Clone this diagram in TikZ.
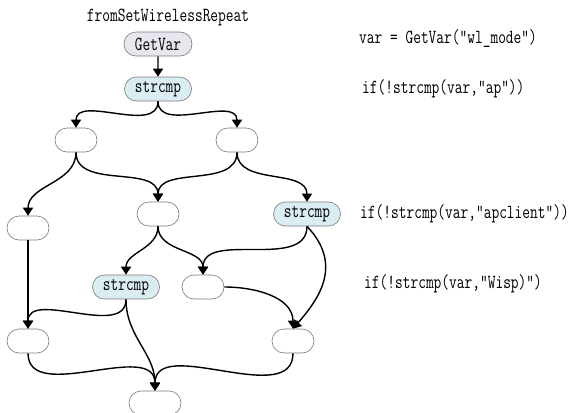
\documentclass[tikz,border=0pt]{standalone}
\usetikzlibrary{arrows.meta,shapes.misc}
\newcommand\ct[1]{\scalebox{0.75}[1]{\fontsize{20}{22}\selectfont\ttfamily #1}}
\definecolor{getfill}{HTML}{E9E6EF}
\definecolor{cmpfill}{HTML}{DAEDF3}
\definecolor{bord}{HTML}{7A7A7A}
\tikzset{
  box/.style={rounded rectangle, draw=bord, line width=0.6pt, fill=white,
    minimum height=24pt, minimum width=42pt, inner sep=0pt},
  getbox/.style={box, fill=getfill, minimum width=68pt},
  cmpbox/.style={box, fill=cmpfill, minimum width=67pt},
  lbl/.style={anchor=west, inner sep=0pt},
  edge/.style={line width=1.4pt, -{Triangle[width=10pt,length=8pt]}},
}
\begin{document}
\begin{tikzpicture}[x=1pt,y=1pt]
\useasboundingbox (0,0) rectangle (574,-413);
\node[inner sep=0pt] (title) at (168,-17) {\ct{fromSetWirelessRepeat}};
\node[getbox] (getvar) at (158,-44) {\ct{GetVar}};
\node[cmpbox] (cmp1) at (158,-89) {\ct{strcmp}};
\node[box] (a) at (76,-140) {};
\node[box] (b) at (237,-140) {};
\node[box] (c) at (158,-214) {};
\node[box] (d) at (28,-228) {};
\node[cmpbox] (e) at (307,-214) {\ct{strcmp}};
\node[cmpbox] (f) at (126,-287) {\ct{strcmp}};
\node[box] (g) at (203,-287) {};
\node[box] (h) at (28,-341) {};
\node[box] (i) at (293,-341) {};
\node[box, minimum width=52pt] (j) at (155,-403) {};

\node[lbl] (t1) at (359,-39) {\ct{var = GetVar("wl\_mode")}};
\node[lbl] (t2) at (362,-89) {\ct{if(!strcmp(var,"ap"))}};
\node[lbl] (t3) at (360,-214) {\ct{if(!strcmp(var,"apclient"))}};
\node[lbl] (t4) at (364,-284) {\ct{if(!strcmp(var,"Wisp)")}};

\draw[edge] (getvar) -- (cmp1);
\draw[edge] (cmp1.south) to[out=-90,in=90] (a.north);
\draw[edge] (cmp1.south) to[out=-90,in=90] (b.north);
\draw[edge] (a.south) to[out=-90,in=90] (d.north);
\draw[edge] (a.south) to[out=-90,in=90] (c.north);
\draw[edge] (b.south) to[out=-90,in=90] (c.north);
\draw[edge] (b.south) to[out=-90,in=90] (e.north);
\draw[edge] (d.south) -- (h.north);
\draw[edge] (c.south) to[out=-90,in=90] (f.north);
\draw[edge] (c.south) to[out=-90,in=90] (g.north);
\draw[edge] (e.south) to[out=-90,in=90] (g.north);
\draw[edge] (e.south) .. controls +(37,-39) and +(25,29) .. (i.north);
\draw[edge] (g.east) to[out=0,in=90] (i.north);
\draw[edge] (f.south) to[out=-90,in=90] (h.north);
\draw[edge] (f.south) to[out=-90,in=90] (j.north);
\draw[edge] (h.south) to[out=-90,in=90] (j.north);
\draw[edge] (i.south) to[out=-90,in=90] (j.north);
\end{tikzpicture}
\end{document}
